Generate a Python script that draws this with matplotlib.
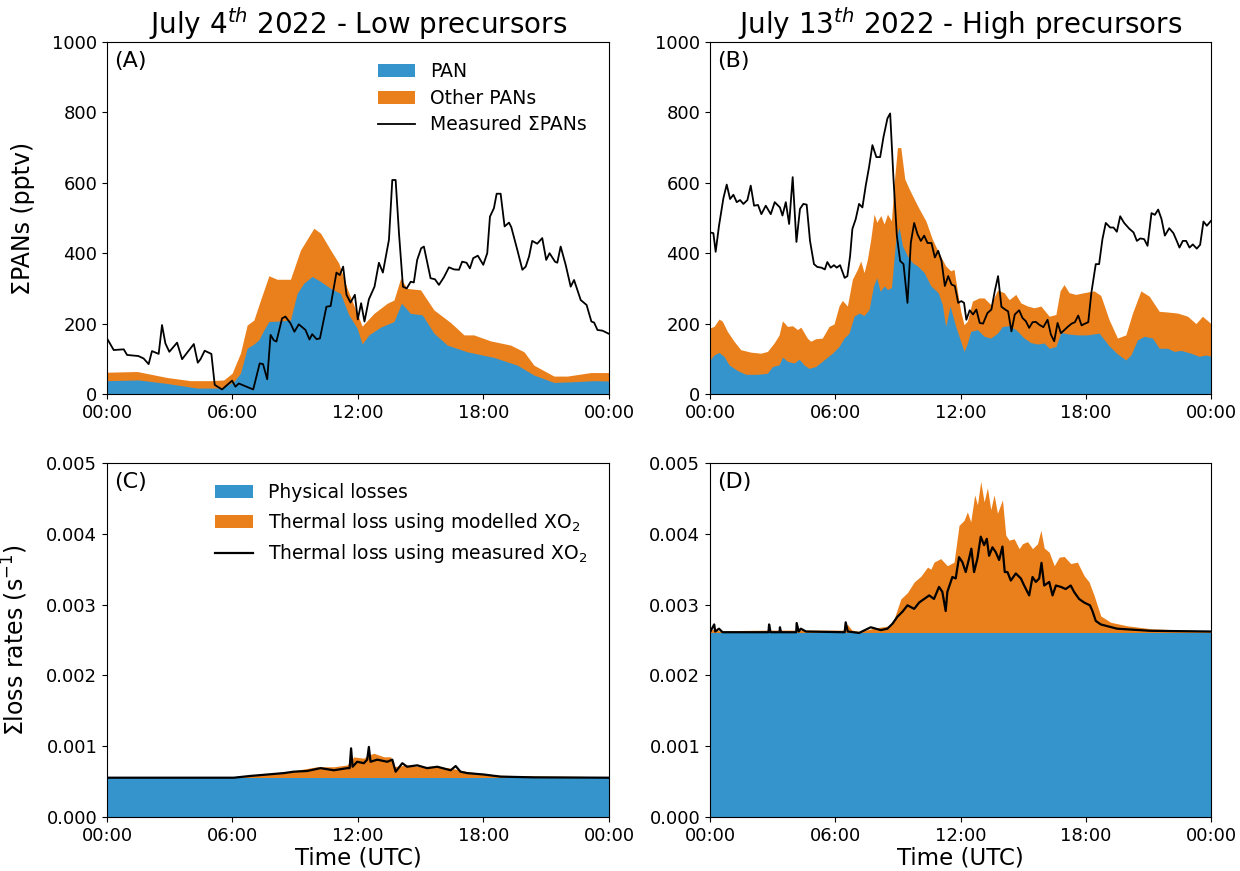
import numpy as np
import matplotlib.pyplot as plt
from matplotlib.ticker import FormatStrFormatter

# ---- panel A : July 4th (pptv) ----
a_meas_t = [0, 0.32, 0.8, 0.96, 1.5, 1.75, 1.99, 2.15, 2.47, 2.63, 2.79, 2.98, 3.35, 3.59, 4.15, 4.34, 4.47, 4.67, 4.99,
            5.15, 5.5, 5.98, 6.14, 6.3, 6.99, 7.3, 7.46, 7.66, 7.82, 7.97, 8.1, 8.37, 8.53, 8.77, 8.96, 9.17, 9.49, 9.68,
            9.81, 10.02, 10.18, 10.49, 10.69, 10.97, 11.13, 11.29, 11.45, 11.64, 11.85, 11.99, 12.15, 12.31, 12.52, 12.79,
            13.0, 13.19, 13.48, 13.64, 13.8, 13.96, 14.15, 14.33, 14.52, 14.67, 14.83, 15.02, 15.15, 15.47, 15.68, 15.87,
            16.11, 16.35, 16.59, 16.83, 16.98, 17.19, 17.35, 17.51, 17.73, 17.99, 18.18, 18.31, 18.5, 18.63, 18.82, 19.01,
            19.22, 19.33, 19.62, 19.86, 20.02, 20.18, 20.33, 20.57, 20.81, 21.0, 21.16, 21.42, 21.53, 21.69, 21.93, 22.17,
            22.33, 22.65, 22.93, 23.16, 23.29, 23.45, 23.69, 24]
a_meas = [158, 125, 127, 111, 108, 101, 85, 122, 114, 196, 144, 120, 146, 99, 142, 89, 99, 123, 114,
          26, 13, 38, 21, 30, 13, 87, 85, 42, 168, 153, 149, 215, 220, 201, 177, 198, 182, 155,
          170, 156, 158, 248, 250, 345, 338, 362, 282, 260, 282, 212, 258, 206, 269, 305,
          373, 345, 438, 608, 608, 457, 305, 300, 319, 317, 381, 414, 419, 329, 326, 310,
          332, 360, 354, 353, 376, 373, 357, 386, 393, 367, 400, 504, 528, 569, 569, 476,
          487, 474, 409, 353, 362, 391, 435, 427, 443, 381, 400, 376, 373, 419, 367, 305,
          324, 267, 253, 206, 203, 182, 180, 171]
a_pan_t = [0, 1.52, 2.87, 4.31, 5.5, 6.06, 6.38, 6.7, 7.02, 7.26, 7.5, 7.74, 8.13, 8.77, 9.09, 9.41, 9.81, 10.21, 10.69,
           11.16, 11.56, 11.96, 12.2, 12.52, 13.08, 13.72, 14.08, 14.51, 15.07, 15.63, 16.27, 17.22, 18.5, 19.62,
           20.41, 21.37, 22.33, 23.29, 24]
a_pan = [38, 40, 30, 17, 17, 35, 59, 130, 142, 154, 182, 206, 207, 210, 286, 315, 334, 320, 300,
         286, 225, 187, 142, 168, 190, 206, 258, 229, 225, 173, 139, 120, 104, 82,
         54, 33, 35, 38, 37]
a_tot_t = [0, 1.44, 2.87, 3.99, 4.94, 5.58, 5.98, 6.38, 6.7, 7.02, 7.34, 7.74, 8.13, 8.77, 9.25, 9.89, 10.21, 10.69,
           11.08, 11.48, 11.96, 12.2, 12.76, 13.4, 13.72, 14.04, 14.35, 14.99, 15.63, 16.43, 17.07, 17.54, 18.34,
           19.3, 19.94, 20.41, 21.37, 22.01, 23.13, 24]
a_tot = [62, 64, 47, 38, 38, 40, 59, 116, 196, 210, 267, 336, 326, 326, 409, 471, 457, 409,
         372, 300, 229, 193, 229, 258, 267, 329, 300, 296, 239, 203, 168, 168, 151,
         139, 120, 82, 51, 51, 61, 61]

# ---- panel B : July 13th (pptv) ----
b_meas_t = [0, 0.16, 0.27, 0.43, 0.64, 0.8, 0.96, 1.12, 1.28, 1.44, 1.6, 1.79, 1.95, 2.11, 2.3, 2.46, 2.67, 2.91, 3.1,
            3.35, 3.47, 3.63, 3.79, 3.96, 4.14, 4.31, 4.47, 4.63, 4.79, 4.98, 5.14, 5.34, 5.5, 5.62, 5.78, 5.94, 6.07,
            6.23, 6.45, 6.58, 6.71, 6.82, 6.98, 7.14, 7.3, 7.46, 7.62, 7.78, 7.97, 8.15, 8.31, 8.5, 8.63, 8.79, 8.95,
            9.11, 9.27, 9.46, 9.62, 9.78, 9.94, 10.1, 10.26, 10.42, 10.61, 10.77, 10.93, 11.09, 11.25, 11.41, 11.57,
            11.73, 11.89, 12.04, 12.17, 12.28, 12.44, 12.6, 12.76, 12.92, 13.08, 13.29, 13.48, 13.64, 13.8, 13.96,
            14.14, 14.28, 14.44, 14.6, 14.81, 14.97, 15.13, 15.29, 15.45, 15.61, 15.77, 15.97, 16.17, 16.33, 16.49,
            16.65, 16.81, 16.96, 17.12, 17.32, 17.48, 17.64, 17.8, 17.96, 18.12, 18.27, 18.48, 18.64, 18.8, 18.96,
            19.17, 19.33, 19.49, 19.65, 19.84, 20.08, 20.29, 20.45, 20.61, 20.8, 20.96, 21.15, 21.31, 21.47, 21.63,
            21.79, 22.0, 22.2, 22.36, 22.49, 22.65, 22.81, 22.97, 23.13, 23.32, 23.48, 23.64, 23.8, 24]
b_meas = [459, 457, 404, 478, 556, 595, 554, 566, 545, 551, 540, 551, 592, 535, 537, 511, 535, 511, 545,
          530, 507, 545, 483, 616, 432, 526, 540, 538, 435, 369, 361, 359, 354, 375, 359, 366, 359,
          366, 330, 335, 392, 469, 497, 540, 530, 592, 645, 707, 673, 673, 730, 783, 797, 611, 450,
          378, 369, 259, 430, 486, 454, 435, 450, 429, 429, 388, 407, 378, 307, 335, 311,
          307, 259, 264, 259, 211, 238, 226, 240, 202, 200, 230, 240, 292, 335, 248,
          240, 235, 178, 226, 238, 216, 207, 188, 204, 205, 197, 190, 211, 169, 150,
          202, 173, 181, 190, 200, 204, 223, 195, 200, 204, 288, 369, 369, 440, 486,
          473, 473, 461, 505, 486, 470, 459, 435, 442, 440, 421, 514, 509, 524, 497,
          450, 471, 457, 435, 416, 435, 435, 416, 425, 413, 424, 490, 478, 492]
b_pan_t = [0, 0.19, 0.43, 0.67, 0.91, 1.31, 1.71, 2.27, 2.75, 2.99, 3.31, 3.47, 3.71, 4.03, 4.27, 4.5, 4.74, 5.06,
           5.46, 5.86, 6.18, 6.42, 6.66, 6.9, 7.14, 7.38, 7.62, 7.83, 7.99, 8.15, 8.34, 8.5, 8.69, 8.9, 9.06, 9.22,
           9.46, 9.7, 9.94, 10.26, 10.58, 10.93, 11.13, 11.29, 11.5, 11.77, 11.93, 12.17, 12.33, 12.49, 12.81,
           13.13, 13.45, 13.77, 14.01, 14.33, 14.65, 15.05, 15.37, 15.69, 16.01, 16.25, 16.57, 16.81, 17.12, 17.6,
           18.08, 18.64, 19.12, 19.52, 19.92, 20.16, 20.48, 20.8, 21.2, 21.52, 21.92, 22.24, 22.56, 23.04, 23.43,
           23.75, 24]
b_pan = [97, 111, 118, 107, 83, 67, 56, 56, 59, 78, 83, 105, 93, 88, 99, 83, 73, 78,
         97, 116, 135, 159, 173, 221, 230, 223, 240, 307, 330, 292, 307, 297, 302, 440, 473, 421,
         392, 373, 364, 345, 307, 288, 254, 192, 250, 192, 164, 121, 145, 178, 183,
         164, 159, 173, 192, 194, 183, 159, 146, 142, 145, 130, 135, 175, 171, 168,
         168, 173, 137, 114, 97, 111, 154, 164, 159, 130, 130, 121, 124, 116, 107,
         111, 107]
b_tot_t = [0, 0.19, 0.43, 0.59, 0.83, 1.15, 1.47, 1.95, 2.43, 2.75, 3.07, 3.31, 3.47, 3.71, 3.95, 4.19, 4.35, 4.66,
           4.82, 5.06, 5.38, 5.7, 5.94, 6.18, 6.34, 6.58, 6.82, 7.06, 7.22, 7.38, 7.54, 7.7, 7.86, 7.99, 8.18, 8.34,
           8.5, 8.69, 8.82, 8.98, 9.14, 9.33, 9.54, 9.78, 10.02, 10.34, 10.65, 10.97, 11.29, 11.53, 11.69, 11.85,
           12.01, 12.17, 12.33, 12.57, 12.89, 13.13, 13.45, 13.77, 14.09, 14.33, 14.65, 14.89, 15.21, 15.53, 15.85,
           16.25, 16.57, 16.77, 16.96, 17.2, 17.52, 17.92, 18.4, 18.72, 19.12, 19.52, 19.92, 20.24, 20.64, 21.04,
           21.52, 21.92, 22.4, 22.88, 23.28, 23.59, 24]
b_tot = [188, 192, 213, 207, 178, 150, 126, 119, 116, 121, 145, 168, 208, 192, 194, 183, 190, 159,
         150, 157, 159, 192, 199, 250, 266, 250, 326, 354, 378, 345, 383, 440, 511, 488, 507, 483,
         511, 492, 599, 700, 700, 611, 583, 554, 526, 492, 440, 400, 364, 350, 354, 293,
         235, 197, 207, 264, 273, 273, 254, 295, 288, 268, 283, 259, 250, 245, 250,
         221, 226, 293, 311, 288, 283, 288, 293, 280, 211, 159, 168, 230, 293, 278,
         235, 233, 230, 221, 200, 221, 200]

# ---- panel C : July 4th loss rates (s-1) ----
c_phys = 0.000545
c_mod_t = [0, 6.06, 6.86, 8.45, 9.25, 10.05, 10.85, 11.48, 11.8, 12.28, 12.44, 12.76, 13.24, 13.56, 13.72, 14.35,
           14.99, 15.63, 16.43, 17.22, 18.02, 18.82, 20.41, 24]
c_mod = [0.000569, 0.000569, 0.000592, 0.000626, 0.00067, 0.00071, 0.00071, 0.000735, 0.00085, 0.00083, 0.00087,
         0.0009, 0.00085, 0.00085, 0.00071, 0.000735, 0.00071, 0.00072, 0.00069, 0.00064, 0.00061, 0.00059,
         0.00058, 0.000569]
c_meas_t = [0, 6.06, 6.86, 8.45, 8.93, 9.57, 10.21, 10.85, 11.48, 11.6, 11.67, 11.74, 11.96, 12.28, 12.44, 12.52,
            12.6, 12.92, 13.4, 13.64, 13.8, 14.12, 14.35, 14.83, 15.31, 15.79, 16.43, 16.67, 16.9, 17.22, 18.02,
            18.82, 20.41, 24]
c_meas = [0.000555, 0.000555, 0.00058, 0.00062, 0.00064, 0.00065, 0.00069, 0.00066, 0.00069, 0.00069, 0.00097,
          0.00071, 0.00078, 0.00076, 0.00081, 0.00099, 0.00078, 0.00081, 0.00078, 0.00081, 0.00064, 0.00076,
          0.00071, 0.00073, 0.00069, 0.00071, 0.00066, 0.00072, 0.00064, 0.00062, 0.0006, 0.00057, 0.00056,
          0.000555]

# ---- panel D : July 13th loss rates (s-1) ----
d_phys = 0.0026
d_mod_t = [0, 0.2, 0.4, 2.8, 2.85, 2.9, 4.1, 4.15, 4.3, 6.4, 6.58, 6.8, 7.2, 7.9, 8.6, 8.82, 9.14, 9.46, 9.78, 10.1,
           10.42, 10.58, 10.73, 11.05, 11.37, 11.69, 11.93, 12.17, 12.33, 12.49, 12.68, 12.81, 12.97, 13.13, 13.29,
           13.45, 13.61, 13.77, 14.01, 14.17, 14.33, 14.57, 14.81, 14.97, 15.21, 15.45, 15.69, 15.85, 16.01, 16.25,
           16.49, 16.73, 16.97, 17.28, 17.6, 17.92, 18.16, 18.4, 18.72, 19.2, 20.0, 21.1, 22.7, 24]
d_mod = [0.00263, 0.00266, 0.00263, 0.00264, 0.0027, 0.00264, 0.00264, 0.0027, 0.00264, 0.00264, 0.00272, 0.00264,
         0.00262, 0.00267, 0.0027, 0.0028, 0.00308, 0.00317, 0.00332, 0.0034,
         0.00353, 0.0035, 0.0036, 0.00365, 0.00355, 0.0036, 0.00412, 0.00419, 0.00431, 0.00417, 0.00455, 0.00441,
         0.00474, 0.00445, 0.00465, 0.00434, 0.00455, 0.00429, 0.00448, 0.00398, 0.00391, 0.00393, 0.00379,
         0.00386, 0.00389, 0.00379, 0.00386, 0.00405, 0.0038, 0.00374, 0.00355, 0.00367, 0.00368, 0.00358, 0.0036,
         0.00341, 0.00332, 0.00313, 0.00284, 0.00275, 0.0027, 0.00266, 0.00264, 0.00263]
d_meas_t = [0, 0.2, 0.25, 0.43, 0.6, 2.8, 2.83, 2.9, 3.33, 3.35, 3.4, 4.13, 4.15, 4.25, 4.35, 4.6, 6.45, 6.5, 6.6,
            7.14, 7.7, 8.18, 8.5, 8.74, 8.98, 9.22, 9.46, 9.78, 10.02, 10.26, 10.5, 10.73, 10.97, 11.13, 11.29,
            11.37, 11.61, 11.77, 11.93, 12.09, 12.25, 12.41, 12.52, 12.65, 12.81, 12.97, 13.13, 13.26, 13.37,
            13.53, 13.69, 13.85, 14.01, 14.12, 14.25, 14.41, 14.65, 14.89, 15.05, 15.29, 15.45, 15.61, 15.77,
            15.88, 16.01, 16.25, 16.41, 16.57, 16.81, 17.04, 17.28, 17.44, 17.68, 17.92, 18.2, 18.32, 18.48,
            18.72, 19.5, 21.1, 24]
d_meas = [0.00261, 0.00272, 0.00262, 0.00266, 0.00261, 0.00261, 0.00272, 0.00261, 0.00261, 0.00268, 0.00261,
          0.00261, 0.00274, 0.00262, 0.00266, 0.00262, 0.00261, 0.00275, 0.00262,
          0.0026, 0.00268, 0.00264, 0.00266, 0.00273, 0.00283, 0.0029, 0.00299, 0.00294, 0.00303, 0.00308,
          0.00313, 0.00308, 0.00325, 0.00318, 0.00291, 0.00318, 0.00339, 0.00337, 0.00367, 0.0036, 0.00346,
          0.00365, 0.00379, 0.00346, 0.00365, 0.00396, 0.00384, 0.00393, 0.00369, 0.00381, 0.00374, 0.00363,
          0.00382, 0.00346, 0.00346, 0.00334, 0.00344, 0.00337, 0.00327, 0.00313, 0.00339, 0.00332, 0.00337,
          0.00359, 0.00327, 0.00332, 0.00313, 0.00327, 0.00325, 0.00322, 0.00327, 0.00318, 0.00308, 0.00303,
          0.00299, 0.00291, 0.00277, 0.00272, 0.00266, 0.00263, 0.00262]

hour_ticks = [0, 6, 12, 18, 24]
hour_labels = ['00:00', '06:00', '12:00', '18:00', '00:00']
titles = ['July 4$^{th}$ 2022 - Low precursors', 'July 13$^{th}$ 2022 - High precursors']

blue = '#3594cc'
orange = '#ea801c'

fig = plt.figure(figsize=(12.4, 8.71), dpi=100)
axA = fig.add_axes([0.0863, 0.5476, 0.4048, 0.4042])
axB = fig.add_axes([0.5726, 0.5476, 0.4040, 0.4042])
axC = fig.add_axes([0.0863, 0.0620, 0.4048, 0.4064])
axD = fig.add_axes([0.5726, 0.0620, 0.4040, 0.4064])

# top row: stacked PAN / other PANs, drawn as total then PAN over it
for ax, tt, tot, pt, pan, mt, meas in [(axA, a_tot_t, a_tot, a_pan_t, a_pan, a_meas_t, a_meas),
                                        (axB, b_tot_t, b_tot, b_pan_t, b_pan, b_meas_t, b_meas)]:
    ax.fill_between(pt, 0, pan, color=blue, lw=0, label='PAN', zorder=2)
    ax.fill_between(tt, 0, tot, color=orange, lw=0, label='Other PANs', zorder=1)
    ax.plot(mt, meas, color='black', lw=1.3, label='Measured ΣPANs', zorder=3)
    ax.set_ylim(0, 1000)
    ax.set_yticks(np.arange(0, 1001, 200))

# bottom row: physical + thermal losses
for ax, phys, mdt, md, mst, ms in [(axC, c_phys, c_mod_t, c_mod, c_meas_t, c_meas),
                                    (axD, d_phys, d_mod_t, d_mod, d_meas_t, d_meas)]:
    ax.fill_between([0, 24], 0, phys, color=blue, lw=0, label='Physical losses', zorder=2)
    ax.fill_between(mdt, 0, md, color=orange, lw=0, label='Thermal loss using modelled XO$_2$', zorder=1)
    ax.plot(mst, ms, color='black', lw=1.6, label='Thermal loss using measured XO$_2$', zorder=3)
    ax.set_ylim(0, 0.005)
    ax.set_yticks(np.arange(0, 0.0051, 0.001))
    ax.yaxis.set_major_formatter(FormatStrFormatter('%.3f'))
    ax.set_xlabel('Time (UTC)', fontsize=16.5, labelpad=1)

for ax, lab in zip([axA, axB, axC, axD], ['(A)', '(B)', '(C)', '(D)']):
    ax.set_xlim(0, 24)
    ax.set_xticks(hour_ticks)
    ax.set_xticklabels(hour_labels)
    ax.tick_params(labelsize=13)
    ax.text(0.015, 0.975, lab, transform=ax.transAxes, ha='left', va='top', fontsize=16)

axA.set_title(titles[0], fontsize=20)
axB.set_title(titles[1], fontsize=20)
axA.set_ylabel('ΣPANs (pptv)', fontsize=17, labelpad=12)
axC.set_ylabel('Σloss rates (s$^{-1}$)', fontsize=17, labelpad=12)

h, l = axA.get_legend_handles_labels()
axA.legend(h, l, loc='upper right', frameon=False, fontsize=13.5, bbox_to_anchor=(0.99, 0.99),
           labelspacing=0.4)
h, l = axC.get_legend_handles_labels()
axC.legend(h, l, loc='upper right', frameon=False, fontsize=13.5, bbox_to_anchor=(0.99, 0.99),
           labelspacing=0.45)

fig.savefig('out.png', dpi=100)
